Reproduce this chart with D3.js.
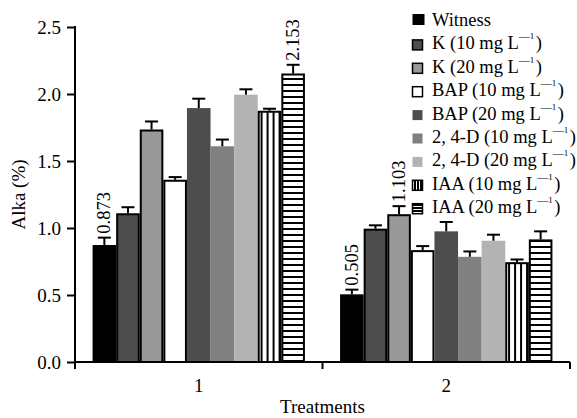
<!DOCTYPE html>
<html>
<head>
<meta charset="utf-8">
<script src="https://cdn.jsdelivr.net/npm/d3@7"></script>
<style>
  html, body { margin: 0; padding: 0; background: #fff; }
  svg { display: block; }
  text { font-family: "Liberation Serif", "Times New Roman", serif; fill: #000; }
</style>
</head>
<body>
<svg id="chart" width="577" height="418"></svg>
<script>
// ---------------- data ----------------
const groups = ["1", "2"];
const seriesNames = [
  "Witness",
  "K (10 mg L^-1)",
  "K (20 mg L^-1)",
  "BAP (10 mg L^-1)",
  "BAP (20 mg L^-1)",
  "2, 4-D (10 mg L^-1)",
  "2, 4-D (20 mg L^-1)",
  "IAA (10 mg L^-1)",
  "IAA (20 mg L^-1)"
];
const values1 = [0.873, 1.11, 1.735, 1.36, 1.895, 1.61, 1.995, 1.875, 2.153];
const values2 = [0.505, 0.995, 1.103, 0.835, 0.975, 0.785, 0.905, 0.745, 0.915];
const errors1 = [0.055, 0.045, 0.06, 0.02, 0.07, 0.05, 0.04, 0.015, 0.065];
const errors2 = [0.035, 0.025, 0.06, 0.03, 0.07, 0.04, 0.045, 0.02, 0.06];
// value labels shown: [groupIndex, seriesIndex]
const labelled = [[0, 0], [0, 8], [1, 0], [1, 2]];
const yTicks = [0, 0.5, 1.0, 1.5, 2.0, 2.5];
const yTitle = "Alka (%)";
const xTitle = "Treatments";

// ---------------- styles ----------------
const fills = ["#000000", "#4d4d4d", "#999999", "#ffffff", "#4d4d4d", "#808080", "#b3b3b3", "url(#vstripe)", "url(#hstripe)"];
const outlined = [true, true, true, true, false, false, false, true, true];
const legendFills = ["#000000", "#4d4d4d", "#999999", "#ffffff", "#4d4d4d", "#808080", "#b3b3b3", "url(#vstripeS)", "url(#hstripeS)"];

const svg = d3.select("#chart");
const defs = svg.append("defs");
function stripe(id, vertical, size) {
  const p = defs.append("pattern").attr("id", id).attr("patternUnits", "userSpaceOnUse")
    .attr("width", size).attr("height", size);
  p.append("rect").attr("width", size).attr("height", size).attr("fill", "#fff");
  if (vertical) p.append("rect").attr("x", 0).attr("y", 0).attr("width", 2).attr("height", size).attr("fill", "#000");
  else p.append("rect").attr("x", 0).attr("y", 0).attr("width", size).attr("height", 2).attr("fill", "#000");
}
stripe("vstripe", true, 6);
stripe("hstripe", false, 6);
stripe("vstripeS", true, 3);
stripe("hstripeS", false, 3);

const y = d3.scaleLinear().domain([0, 2.5]).range([362, 27]);
const x0 = d3.scaleBand().domain(groups).range([75, 570]).paddingInner(0.142).paddingOuter(0.071);
const x1 = d3.scaleBand().domain(d3.range(seriesNames.length)).range([0, x0.bandwidth()]);

const data = groups.map((g, gi) => seriesNames.map((s, si) => ({
  g, gi, si,
  v: gi === 0 ? values1[si] : values2[si],
  e: gi === 0 ? errors1[si] : errors2[si]
})));

// bars
const gG = svg.append("g").selectAll("g").data(data).join("g")
  .attr("transform", d => `translate(${x0(d[0].g)},0)`);
gG.selectAll("rect").data(d => d).join("rect")
  .attr("x", d => x1(d.si) + (outlined[d.si] ? 1 : 0))
  .attr("width", d => x1.bandwidth() - (outlined[d.si] ? 2 : 0))
  .attr("y", d => y(d.v) + (outlined[d.si] ? 1 : 0))
  .attr("height", d => y(0) - y(d.v) - (outlined[d.si] ? 1 : 0))
  .attr("fill", d => fills[d.si])
  .attr("stroke", d => outlined[d.si] ? "#000" : "none")
  .attr("stroke-width", 2);

// error bars
const eb = gG.selectAll("g.err").data(d => d).join("g").attr("class", "err");
eb.append("line")
  .attr("x1", d => x1(d.si) + x1.bandwidth() / 2)
  .attr("x2", d => x1(d.si) + x1.bandwidth() / 2)
  .attr("y1", d => y(d.v))
  .attr("y2", d => y(d.v + d.e))
  .attr("stroke", "#000").attr("stroke-width", 2);
eb.append("line")
  .attr("x1", d => x1(d.si) + x1.bandwidth() / 2 - 6.5)
  .attr("x2", d => x1(d.si) + x1.bandwidth() / 2 + 6.5)
  .attr("y1", d => y(d.v + d.e))
  .attr("y2", d => y(d.v + d.e))
  .attr("stroke", "#000").attr("stroke-width", 2);

// value labels
labelled.forEach(([gi, si]) => {
  const d = data[gi][si];
  const cx = x0(d.g) + x1(si) + x1.bandwidth() / 2 + 6;
  const yy = y(d.v + d.e) - 4;
  svg.append("text")
    .attr("transform", `translate(${cx},${yy}) rotate(-90)`)
    .attr("text-anchor", "start")
    .attr("font-size", 18.5)
    .text(d3.format(".3f")(d.v));
});

// y axis
const yAxis = svg.append("g").attr("transform", "translate(75,0)")
  .call(d3.axisLeft(y).tickValues(yTicks).tickFormat(d3.format(".1f")).tickSize(8).tickPadding(6).tickSizeOuter(0));
yAxis.select(".domain").remove();
yAxis.selectAll("line").attr("stroke", "#000").attr("stroke-width", 2);
yAxis.selectAll("text").attr("font-size", 19).attr("font-family", "Liberation Serif, serif").attr("dy", "0.35em");
svg.append("line").attr("x1", 75).attr("x2", 75).attr("y1", y(2.5) - 1).attr("y2", 369)
  .attr("stroke", "#000").attr("stroke-width", 2);

// x axis
const xAxis = svg.append("g").attr("transform", "translate(0,362)")
  .call(d3.axisBottom(x0).tickSize(0).tickPadding(17).tickSizeOuter(0));
xAxis.select(".domain").remove();
xAxis.selectAll("text").attr("font-size", 19).attr("font-family", "Liberation Serif, serif");
svg.append("line").attr("x1", 75).attr("x2", 570).attr("y1", 362).attr("y2", 362)
  .attr("stroke", "#000").attr("stroke-width", 2);
const bounds = groups.slice(1).map(g => x0(g) - x0.step() * x0.paddingInner() / 2).concat([x0.range()[1]]);
svg.selectAll("line.xt").data(bounds).join("line").attr("class", "xt")
  .attr("x1", d => d).attr("x2", d => d).attr("y1", 362).attr("y2", 369)
  .attr("stroke", "#000").attr("stroke-width", 2);

// axis titles
svg.append("text").attr("transform", `translate(25,${(y(0) + y(2.5)) / 2}) rotate(-90)`)
  .attr("text-anchor", "middle").attr("font-size", 19).text(yTitle);
svg.append("text").attr("x", (75 + 570) / 2).attr("y", 413)
  .attr("text-anchor", "middle").attr("font-size", 19).text(xTitle);

// legend
const lg = svg.append("g");
seriesNames.forEach((name, i) => {
  const base = 26 + i * 23.4;
  const big = i === 0;
  const s = big ? 12 : 10;
  lg.append("rect")
    .attr("x", 412.5).attr("y", base - s - (big ? 0 : -0.5))
    .attr("width", s).attr("height", s - (big ? 1 : 0))
    .attr("fill", legendFills[i])
    .attr("stroke", outlined[i] && !big ? "#000" : "none")
    .attr("stroke-width", 1.5);
  const t = lg.append("text").attr("x", 432).attr("y", base).attr("font-size", 18.5);
  const parts = name.split("^-1");
  t.append("tspan").text(parts[0]);
  if (parts.length > 1) {
    t.append("tspan").attr("font-size", 11).attr("dy", -9).text("\u2014");
    t.append("tspan").attr("font-size", 9).attr("dy", -1).text("1");
    t.append("tspan").attr("dy", 10).attr("dx", 1.5).text(parts[1]);
  }
});
</script>
</body>
</html>
